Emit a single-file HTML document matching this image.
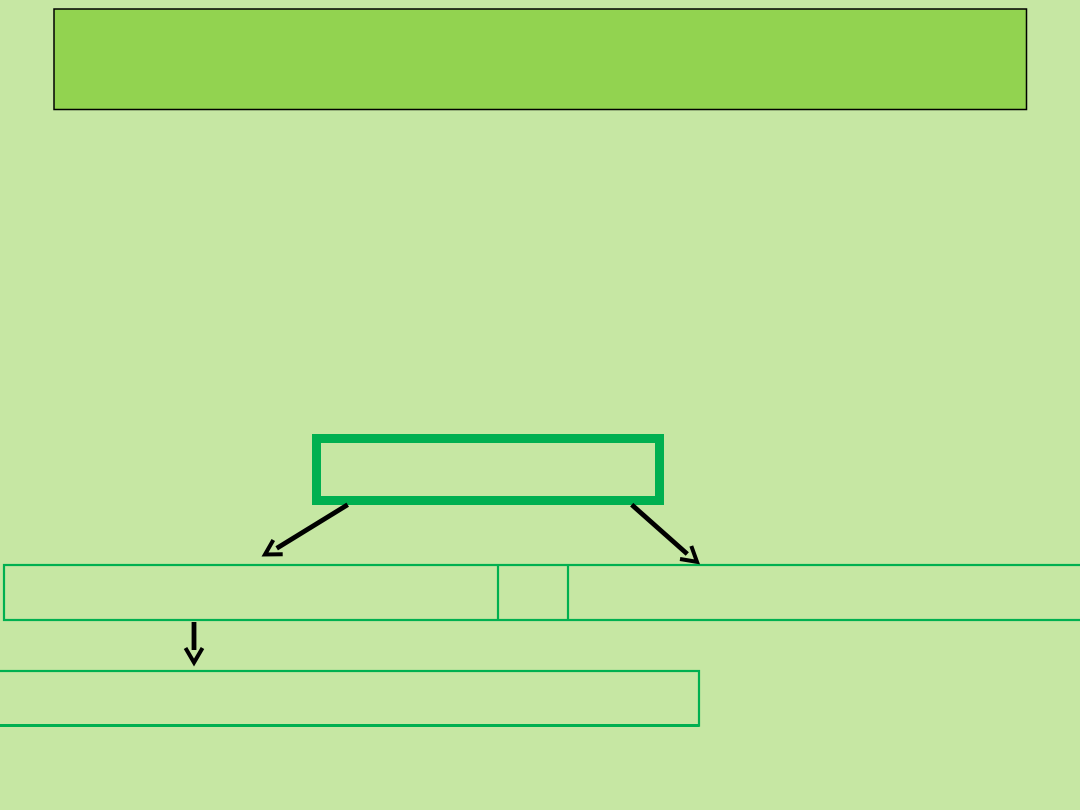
<!DOCTYPE html>
<html>
<head>
<meta charset="utf-8">
<style>
html,body{margin:0;padding:0;width:1080px;height:810px;overflow:hidden;background:#C6E7A3}
svg{display:block}
</style>
</head>
<body>
<svg width="1080" height="810" viewBox="0 0 1080 810" xmlns="http://www.w3.org/2000/svg">
<rect width="1080" height="810" fill="#C6E7A3"/>
<rect x="54" y="9" width="972.500" height="100.500" fill="#92D350" stroke="#000" stroke-width="1.500"/>
<rect x="316.500" y="438.500" width="343" height="62" fill="none" stroke="#00B050" stroke-width="9"/>
<g fill="none" stroke="#00B050" stroke-width="2.200">
<rect x="4" y="565" width="1080" height="55"/>
<path d="M498 565V620M568 565V620"/>
<rect x="-10" y="671" width="709" height="54.500"/>
</g>
<path d="M-5 725.500H699.500" stroke="#00B050" stroke-width="3" fill="none"/>
<g fill="none" stroke="#000" stroke-width="4.800" stroke-linejoin="miter">
<path d="M347.700 504.700L276.700 548.300"/>
<path d="M273.300 540L265 554.500L282.700 554.300" stroke-width="4"/>
<path d="M631.700 504.700L687.300 554"/>
<path d="M691.300 546L697 561.800L680 559" stroke-width="4"/>
<path d="M194 622V650"/>
<path d="M185.500 648L194 662.500L202.500 648" stroke-width="4"/>
</g>
</svg>
</body>
</html>
